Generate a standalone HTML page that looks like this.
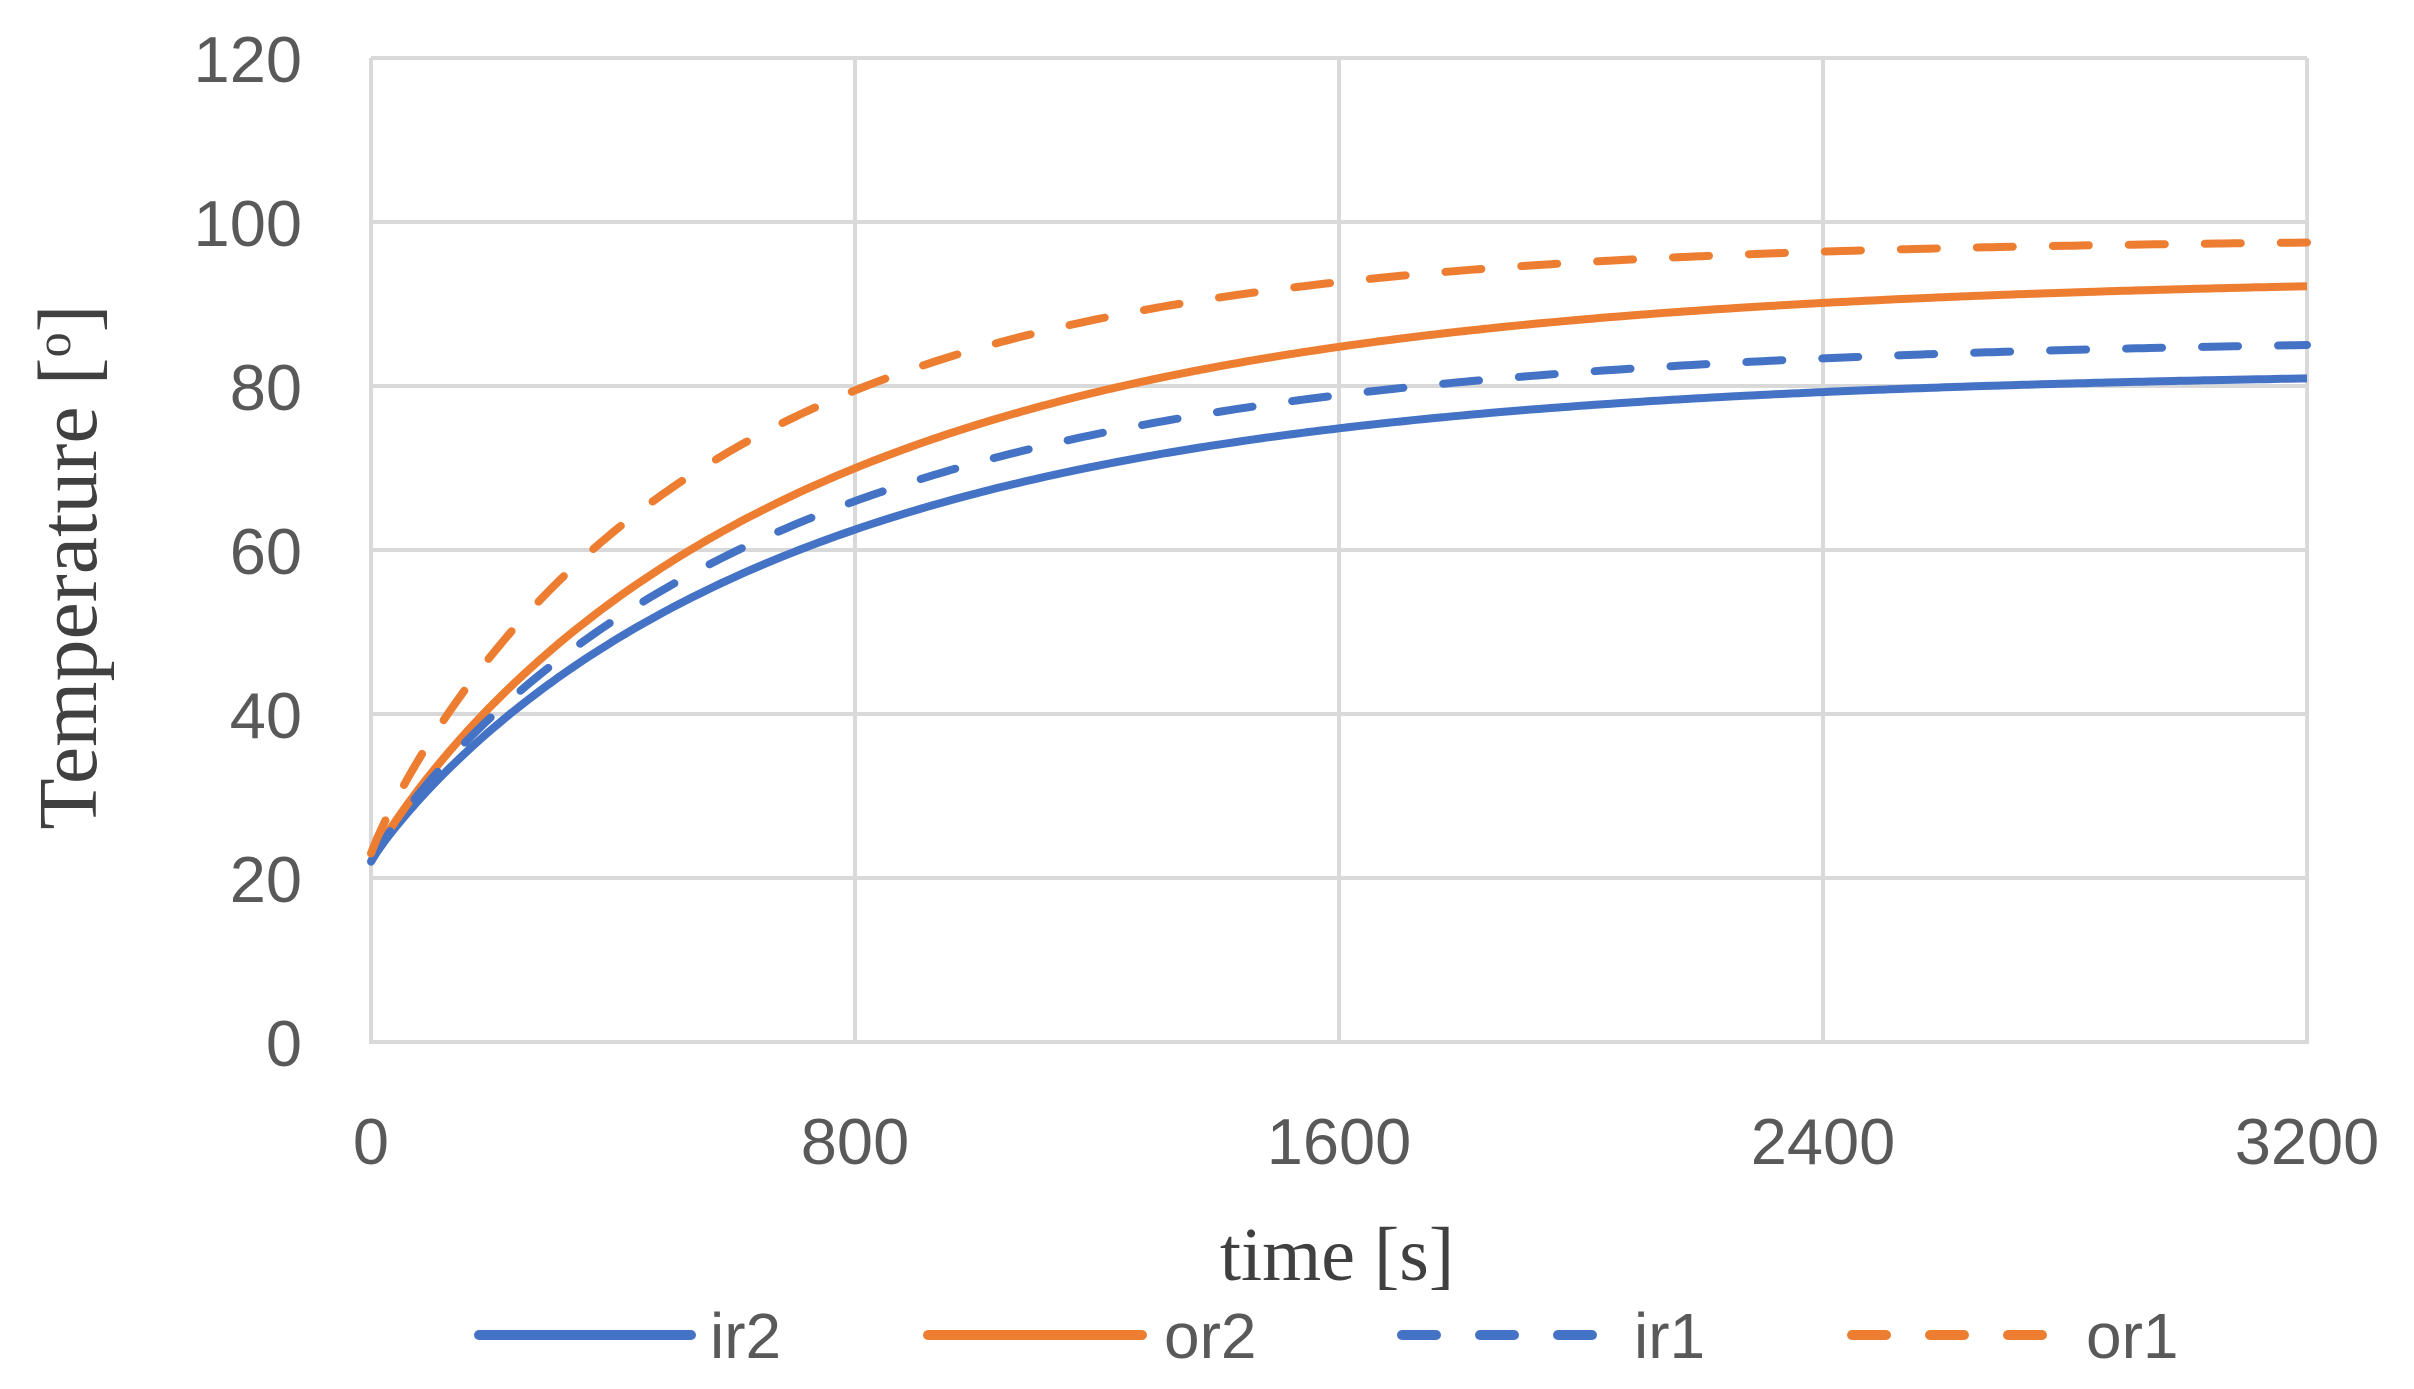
<!DOCTYPE html>
<html><head><meta charset="utf-8"><style>
html,body{margin:0;padding:0;background:#fff;}
svg{display:block;}
</style></head><body>
<svg id="s" width="2414" height="1389" xmlns="http://www.w3.org/2000/svg">
<g stroke="#d9d9d9" stroke-width="4" fill="none">
<line x1="371" y1="58" x2="2307" y2="58"/>
<line x1="371" y1="222" x2="2307" y2="222"/>
<line x1="371" y1="386" x2="2307" y2="386"/>
<line x1="371" y1="550" x2="2307" y2="550"/>
<line x1="371" y1="714" x2="2307" y2="714"/>
<line x1="371" y1="878" x2="2307" y2="878"/>
<line x1="855" y1="58" x2="855" y2="1042"/>
<line x1="1339" y1="58" x2="1339" y2="1042"/>
<line x1="1823" y1="58" x2="1823" y2="1042"/>
<line x1="2307" y1="58" x2="2307" y2="1042"/>
<line x1="371" y1="58" x2="371" y2="1042"/>
<line x1="369" y1="1042" x2="2309" y2="1042"/>
</g>
<g font-family="Liberation Sans, sans-serif" font-size="65" fill="#595959" text-anchor="end">
<text x="302" y="82">120</text>
<text x="302" y="246">100</text>
<text x="302" y="410">80</text>
<text x="302" y="574">60</text>
<text x="302" y="738">40</text>
<text x="302" y="902">20</text>
<text x="302" y="1066">0</text>
</g>
<g font-family="Liberation Sans, sans-serif" font-size="65" fill="#595959" text-anchor="middle">
<text x="371" y="1164">0</text>
<text x="855" y="1164">800</text>
<text x="1339" y="1164">1600</text>
<text x="1823" y="1164">2400</text>
<text x="2307" y="1164">3200</text>
</g>
<text x="1337" y="1280" font-family="Liberation Serif, serif" font-size="76" fill="#404040" text-anchor="middle">time [s]</text>
<text transform="translate(96,567) rotate(-90)" font-family="Liberation Serif, serif" font-size="84" fill="#404040" text-anchor="middle">Temperature [<tspan font-size="50" dy="-26">o</tspan><tspan dy="26">]</tspan></text>
<g id="curves" fill="none" stroke-width="8" stroke-linejoin="round"></g>
<g stroke-width="10" stroke-linecap="round">
<line x1="479" y1="1335" x2="691" y2="1335" stroke="#4472C4"/>
<line x1="928" y1="1335" x2="1142" y2="1335" stroke="#ED7D31"/>
<line x1="1402" y1="1335" x2="1606" y2="1335" stroke="#4472C4" stroke-dasharray="34 44"/>
<line x1="1852" y1="1335" x2="2058" y2="1335" stroke="#ED7D31" stroke-dasharray="34 44"/>
</g>
<g font-family="Liberation Sans, sans-serif" font-size="64" fill="#595959">
<text x="710" y="1358">ir2</text>
<text x="1164" y="1358">or2</text>
<text x="1634" y="1358">ir1</text>
<text x="2086" y="1358">or1</text>
</g>
</svg>
<script>
var g=document.getElementById('curves');
var S=[
 {c:'#4472C4',T:82,T0:22,tau:705,d:''},
 {c:'#ED7D31',T:93.5,T0:22,tau:713,d:''},
 {c:'#4472C4',T:86,T0:22,tau:680,d:'36 40'},
 {c:'#ED7D31',T:98,T0:23,tau:556,d:'36 40'}
];
S.forEach(function(s){
 var p='';
 for(var t=0;t<=3200;t+=10){
  var v=s.T-(s.T-s.T0)*Math.exp(-Math.pow(t/s.tau,0.92));
  var x=371+t*484/800, y=1042-v*8.2;
  p+=(t?'L':'M')+x.toFixed(1)+' '+y.toFixed(1);
 }
 var e=document.createElementNS('http://www.w3.org/2000/svg','path');
 e.setAttribute('d',p);e.setAttribute('stroke',s.c);
 if(s.d){e.setAttribute('stroke-dasharray',s.d);e.setAttribute('stroke-linecap','round');}
 g.appendChild(e);
});
</script>
</body></html>
